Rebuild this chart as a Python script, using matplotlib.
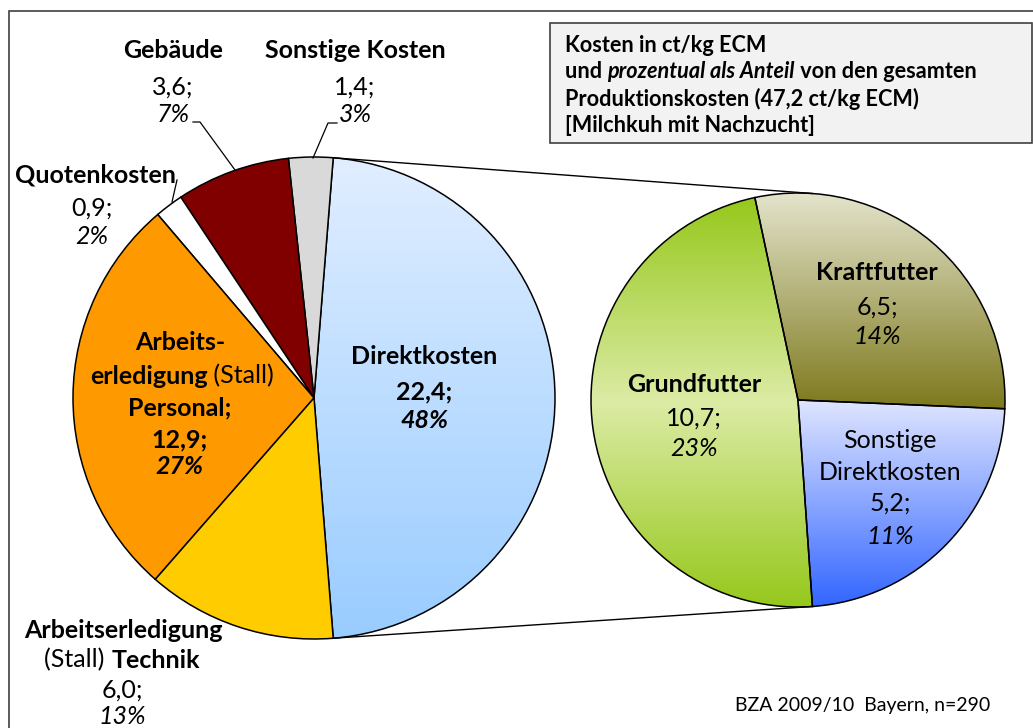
import numpy as np
import matplotlib.pyplot as plt
from matplotlib.patches import Rectangle
from matplotlib.colors import LinearSegmentedColormap

# Kosten in ct/kg ECM (Hauptkreis) und Aufteilung der Direktkosten (Nebenkreis)
haupt_namen = ["Direktkosten", "Sonstige Kosten", "Gebäude", "Quotenkosten",
               "Arbeitserledigung (Stall) Personal", "Arbeitserledigung (Stall) Technik"]
haupt_werte = [22.4, 1.4, 3.6, 0.9, 12.9, 6.0]
haupt_prozent = [48, 3, 7, 2, 27, 13]

neben_namen = ["Sonstige Direktkosten", "Kraftfutter", "Grundfutter"]
neben_werte = [5.2, 6.5, 10.7]
neben_prozent = [11, 14, 23]

haupt_farben = ["#cfe6ff", "#d9d9d9", "#800000", "#ffffff", "#ff9900", "#ffcc00"]
neben_farben = ["#8fa8ff", "#b0ad80", "#c0e080"]

W, H = 1033, 728
plt.rcParams['font.family'] = ['Lato', 'DejaVu Sans']

fig = plt.figure(figsize=(W / 100, H / 100), dpi=100)
ax = fig.add_axes([0, 0, 1, 1])
renderer = fig.canvas.get_renderer()


def Y(y):
    return H - y


def fmt(v):
    return f"{v:.1f}".replace('.', ',') + ";"


# Hauptkreis: Direktkosten rechts zentriert
hc, hr = (314, Y(398)), 241
start = -360 * haupt_werte[0] / sum(haupt_werte) / 2
w1, _ = ax.pie(haupt_werte, colors=haupt_farben, startangle=start, counterclock=True,
               center=hc, radius=hr, wedgeprops=dict(edgecolor='black', linewidth=1.1))

# Nebenkreis
nc, nr = (798, Y(400)), 207
w2, _ = ax.pie(neben_werte, colors=neben_farben, startangle=-86, counterclock=True,
               center=nc, radius=nr, wedgeprops=dict(edgecolor='black', linewidth=1.1))


def verlauf(wedge, stops):
    wedge.set_facecolor('none')
    ext = wedge.get_path().get_extents()
    cmap = LinearSegmentedColormap.from_list('v', stops)
    grad = np.linspace(0, 1, 256).reshape(-1, 1)
    im = ax.imshow(grad, cmap=cmap, extent=[ext.x0, ext.x1, ext.y0, ext.y1],
                   origin='upper', aspect='auto', zorder=0.5, interpolation='bilinear')
    im.set_clip_path(wedge)


verlauf(w1[0], ["#e1eeff", "#99ccff"])
verlauf(w2[0], ["#e0e6ff", "#3366ff"])
verlauf(w2[1], ["#e4e4cc", "#7d781c"])
verlauf(w2[2], ["#96c81c", "#dceba5", "#96c81c"])

# Verbindungslinien
t1, t2 = np.radians(w1[0].theta1), np.radians(w1[0].theta2)
for a, b in [(t2, np.radians(86)), (t1, np.radians(-86))]:
    ax.plot([hc[0] + hr * np.cos(a), nc[0] + nr * np.cos(b)],
            [hc[1] + hr * np.sin(a), nc[1] + nr * np.sin(b)], color='black', lw=1.0)


def breite(s, size, w, st):
    t1_ = ax.text(0, 0, "|" + s + "|", fontsize=size, fontweight=w, fontstyle=st)
    t2_ = ax.text(0, 0, "||", fontsize=size, fontweight=w, fontstyle=st)
    b = t1_.get_window_extent(renderer).width - t2_.get_window_extent(renderer).width
    t1_.remove()
    t2_.remove()
    return b


def zeile(x, y, teile, size=18, ha='center'):
    br = [breite(s, size, w, st) for s, w, st in teile]
    x0 = x - sum(br) / 2 if ha == 'center' else x
    for (s, w, st), b in zip(teile, br):
        ax.text(x0, Y(y), s, fontsize=size, fontweight=w, fontstyle=st,
                va='center', ha='left', zorder=5)
        x0 += b


B, N, I = 'bold', 'normal', 'italic'

# Hauptkreis-Beschriftungen
zeile(424, 356, [(haupt_namen[0], B, N)])
zeile(424, 392, [(fmt(haupt_werte[0]), B, N)])
zeile(424, 420, [(f"{haupt_prozent[0]}%", B, I)])

zeile(355, 50, [(haupt_namen[1], B, N)])
zeile(355, 87, [(fmt(haupt_werte[1]), N, N)])
zeile(355, 115, [(f"{haupt_prozent[1]}%", N, I)])

zeile(173, 50, [(haupt_namen[2], B, N)])
zeile(173, 87, [(fmt(haupt_werte[2]), N, N)])
zeile(173, 114, [(f"{haupt_prozent[2]}%", N, I)])

zeile(95, 175, [(haupt_namen[3], B, N)])
zeile(92, 208, [(fmt(haupt_werte[3]), N, N)])
zeile(92, 237, [(f"{haupt_prozent[3]}%", N, I)])

zeile(180, 343, [("Arbeits-", B, N)])
zeile(182, 376, [("erledigung", B, N), (" (Stall)", N, N)])
zeile(180, 408, [("Personal;", B, N)])
zeile(180, 440, [(fmt(haupt_werte[4]), B, N)])
zeile(180, 467, [(f"{haupt_prozent[4]}%", B, I)])

zeile(123, 630, [("Arbeitserledigung", B, N)])
zeile(122, 660, [("(Stall) ", N, N), ("Technik", B, N)])
zeile(122, 690, [(fmt(haupt_werte[5]), N, N)])
zeile(122, 717, [(f"{haupt_prozent[5]}%", N, I)])

# Führungslinien
for xs, ys in [([193, 200, 235], [122, 122, 170]),
               ([337, 328, 313], [123, 123, 158]),
               ([177, 172], [180, 202])]:
    ax.plot(xs, [Y(v) for v in ys], color='black', lw=0.9)

# Nebenkreis-Beschriftungen
zeile(877, 273, [(neben_namen[1], B, N)])
zeile(877, 307, [(fmt(neben_werte[1]), N, N)])
zeile(877, 337, [(f"{neben_prozent[1]}%", N, I)])

zeile(694, 385, [(neben_namen[2], B, N)])
zeile(694, 418, [(fmt(neben_werte[2]), N, N)])
zeile(694, 448, [(f"{neben_prozent[2]}%", N, I)])

zeile(890, 440, [("Sonstige", N, N)])
zeile(890, 472, [("Direktkosten", N, N)])
zeile(890, 503, [(fmt(neben_werte[0]), N, N)])
zeile(890, 536, [(f"{neben_prozent[0]}%", N, I)])

# Infobox
ax.add_patch(Rectangle((550, Y(143)), 482, 120, facecolor='#f2f2f2',
                       edgecolor='#404040', lw=1.2, zorder=3))
bs = 15.6
zeile(565, 45, [("Kosten in ct/kg ECM", B, N)], size=bs, ha='left')
zeile(565, 72, [("und ", B, N), ("prozentual als Anteil", B, I), (" von den gesamten", B, N)],
      size=bs, ha='left')
zeile(565, 99, [("Produktionskosten (47,2 ct/kg ECM)", B, N)], size=bs, ha='left')
zeile(565, 125, [("[Milchkuh mit Nachzucht]", B, N)], size=bs, ha='left')

# Quelle
ax.text(990, Y(705), "BZA 2009/10  Bayern, n=290", fontsize=14, ha='right', va='center')

# Rahmen
ax.add_patch(Rectangle((9, -20), 1100, Y(10.5) + 20, facecolor='none',
                       edgecolor='#404040', lw=1.2, zorder=6))

ax.set_xlim(0, W)
ax.set_ylim(0, H)
ax.set_aspect('auto')
ax.axis('off')
fig.savefig('out.png', dpi=100)
